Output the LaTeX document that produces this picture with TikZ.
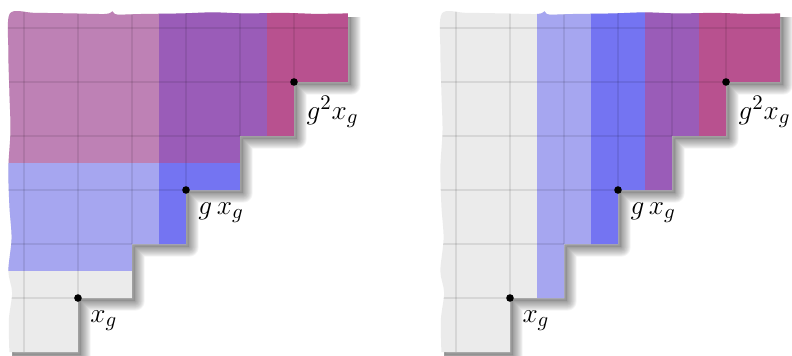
\documentclass[tikz,border=0pt]{standalone}
\usetikzlibrary{positioning}
\definecolor{paper}{HTML}{EBEBEB}
\definecolor{lblue}{HTML}{A6A6F0}
\definecolor{dblue}{HTML}{7474F2}
\definecolor{mauve}{HTML}{BE81B5}
\definecolor{purp}{HTML}{9A5CB8}
\definecolor{rose}{HTML}{B8518F}
\tikzset{
  dot/.style={circle, fill=black, inner sep=0pt, minimum size=4pt},
  lbl/.style={inner sep=0pt, font=\fontsize{15.5}{18}\selectfont},
  gridline/.style={draw=black, draw opacity=0.085, line width=1.5pt},
  shade/.style={black, line join=round, opacity=0.045},
}
\newcommand\outline{(-0.27,-6) -| (1,-5) -| (2,-4) -| (3,-3) -| (4,-2) -| (5,-1) -| (6,0.27)
  -- plot[smooth,tension=0.5] coordinates {(5.4,0.26) (4.8,0.28) (4.1,0.27) (3.5,0.29) (2.9,0.27)
  (2.2,0.26) (1.72,0.25) (1.64,0.31) (1.52,0.26) (0.9,0.27) (0.2,0.28) (-0.26,0.27)
  (-0.29,-0.4) (-0.27,-1.2) (-0.25,-1.9) (-0.29,-2.6) (-0.27,-3.3) (-0.23,-3.9)
  (-0.29,-4.5) (-0.22,-4.9) (-0.28,-5.4) (-0.27,-6)} -- cycle}
\newcommand\shadowof{%
  \begin{scope}
    \clip (-0.22,-6.6) rectangle (6.6,0.2);
    \begin{scope}[shift={(0.06,-0.06)}]
      \foreach \w in {10,9,...,1}
        \draw[shade, line width=\w pt] \outline;
      \fill[black, opacity=0.12] \outline;
    \end{scope}
  \end{scope}}
\newcommand\gridof{%
  \foreach \i in {0,...,5} \draw[gridline] (\i,1) -- (\i,{\i-6});
  \foreach \j in {0,...,5} \draw[gridline] (-1,-\j) -- ({6-\j},-\j);}

\begin{document}
\begin{tikzpicture}
\useasboundingbox (-0.444,0.5185) rectangle (14.222,-6.056);

\begin{scope}
  \shadowof
  \begin{scope}
    \clip \outline;
    \fill[paper] (-1,-7) rectangle (7,1);
    \fill[lblue] (-1,-4.5) rectangle (2.5,-2.5);
    \fill[dblue] (2.5,-4.5) rectangle (7,-2.5);
    \fill[mauve] (-1,-2.5) rectangle (2.5,1);
    \fill[purp] (2.5,-2.5) rectangle (4.5,1);
    \fill[rose] (4.5,-7) rectangle (7,1);
    \gridof
  \end{scope}
  \node[dot] (xgA) at (1,-5) {};
  \node[dot] (gxgA) at (3,-3) {};
  \node[dot] (ggxgA) at (5,-1) {};
  \node[lbl, below right=0.17cm and 0.17cm of xgA] (xgAlbl) {$x_g$};
  \node[lbl, below right=0.17cm and 0.17cm of gxgA] (gxgAlbl) {$g\,x_g$};
  \node[lbl, below right=0.2cm and 0.17cm of ggxgA] (ggxgAlbl) {$g^2x_g$};
\end{scope}

\begin{scope}[xshift=8cm]
  \shadowof
  \begin{scope}
    \clip \outline;
    \fill[paper] (-1,-7) rectangle (7,1);
    \fill[lblue] (1.5,-7) rectangle (2.5,1);
    \fill[dblue] (2.5,-7) rectangle (3.5,1);
    \fill[purp] (3.5,-7) rectangle (4.5,1);
    \fill[rose] (4.5,-7) rectangle (7,1);
    \gridof
  \end{scope}
  \node[dot] (xgB) at (1,-5) {};
  \node[dot] (gxgB) at (3,-3) {};
  \node[dot] (ggxgB) at (5,-1) {};
  \node[lbl, below right=0.17cm and 0.17cm of xgB] (xgBlbl) {$x_g$};
  \node[lbl, below right=0.17cm and 0.17cm of gxgB] (gxgBlbl) {$g\,x_g$};
  \node[lbl, below right=0.2cm and 0.17cm of ggxgB] (ggxgBlbl) {$g^2x_g$};
\end{scope}
\end{tikzpicture}
\end{document}
